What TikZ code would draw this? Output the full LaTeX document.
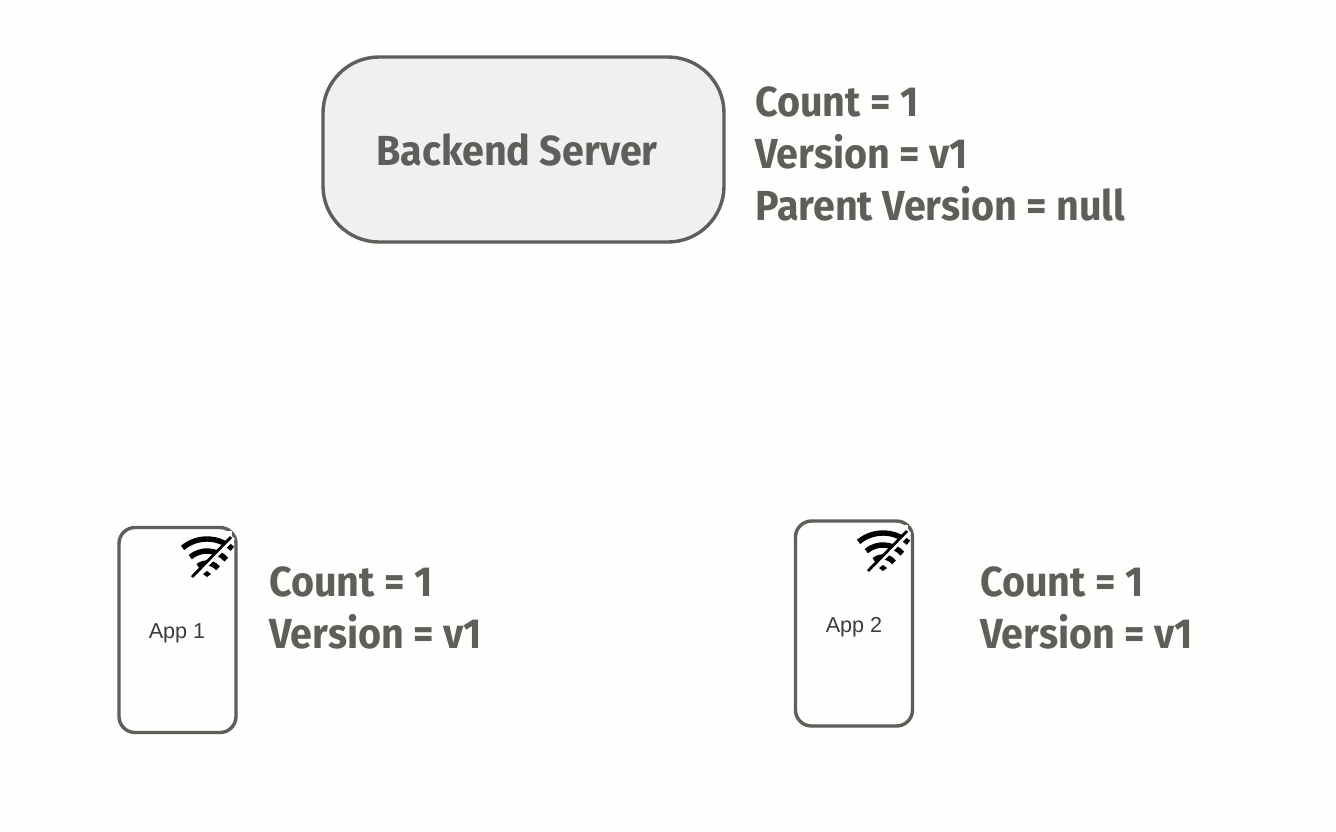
\documentclass[tikz,border=0pt]{standalone}
\usepackage{fontspec}
\setsansfont{Liberation Sans}
\newfontfamily\headfont[FakeStretch=0.94]{Fira Sans Bold}
\definecolor{ink}{HTML}{5F5E5B}
\definecolor{paper}{HTML}{FFFEFD}
\definecolor{serverfill}{HTML}{F1F0F0}
\definecolor{applabel}{HTML}{3C3C3C}
\tikzset{
  stat/.style={anchor=base west,inner sep=0pt,text=ink,font=\headfont\fontsize{21}{21}\selectfont},
  phone/.style={draw=ink,line width=1.7pt,rounded corners=8pt,fill=paper,minimum width=58.5pt,minimum height=102.5pt,inner sep=0pt},
  applbl/.style={text=applabel,inner sep=0pt,font=\sffamily\fontsize{10.8}{11}\selectfont}
}
\newcommand{\wifioff}[2]{%
  \begin{scope}[shift={(#1,#2)}]
    \fill[paper] (-10,-46) rectangle (25,-27);
    \foreach \r/\e in {14/38,26/42,38/48}
      \draw[black,line width=2.7pt] (130:\r*0.5pt) arc[start angle=130,end angle=\e,radius=\r*0.5pt];
    \fill[black] (-4,-3) -- (0,0) -- (4,-3) -- (0,-6) -- cycle;
    \draw[paper,line width=1.7pt] (-11,-1)--(27,-39);
    \draw[black,line width=1.4pt] (-15,0)--(24,-40);
  \end{scope}}
\begin{document}
\begin{tikzpicture}[x=0.5pt,y=-0.5pt]
  \fill[paper] (0,0) rectangle (1336,831);
  \useasboundingbox (0,0) rectangle (1336,831);
  % server
  \node[draw=ink,line width=1.7pt,rounded corners=28pt,fill=serverfill,minimum width=200.5pt,minimum height=92.5pt,inner sep=0pt] (server) at (523.5,149.5) {};
  \node[anchor=base,inner sep=0pt,text=ink,font=\headfont\fontsize{21}{21}\selectfont] (serverlabel) at (517,165) {Backend Server};
  \node[stat] (servercount) at (755,116) {Count = 1};
  \node[stat] (serverversion) at (755,168) {Version = v1};
  \node[stat] (serverparent) at (755,220) {Parent Version = null};
  % phones
  \node[phone] (app1) at (177.5,630) {};
  \node[applbl] (app1label) at (177,633) {App 1};
  \wifioff{207}{577}
  \node[stat] (app1count) at (269,596) {Count = 1};
  \node[stat] (app1version) at (269,648) {Version = v1};

  \node[phone] (app2) at (854,623.5) {};
  \node[applbl] (app2label) at (854,627) {App 2};
  \wifioff{883}{571}
  \node[stat] (app2count) at (980,596) {Count = 1};
  \node[stat] (app2version) at (980,648) {Version = v1};
\end{tikzpicture}
\end{document}
